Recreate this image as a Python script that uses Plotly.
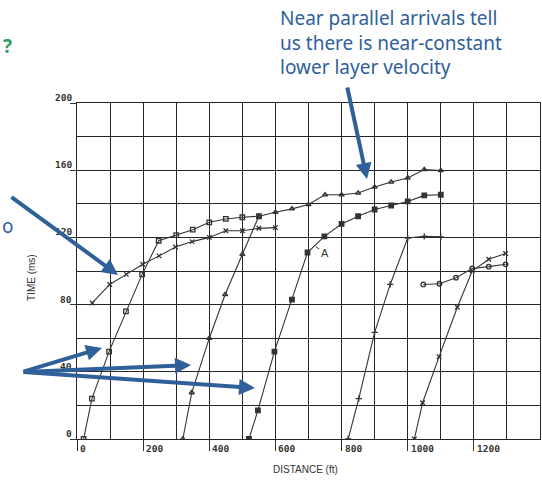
import plotly.graph_objects as go

# Travel-time picks (distance in ft, time in ms), one polyline per branch
shot1_x = [20, 45, 97, 148, 197, 247, 300, 350, 400, 450, 500, 550]
shot1_t = [0, 24, 52, 76, 98, 118, 121.4, 124.6, 129, 131, 132, 132.6]

offend_x = [46, 99, 149, 199, 248, 298, 348, 400, 450, 500, 550, 600]
offend_t = [81, 92, 98, 104, 109, 114.3, 117.5, 120, 124, 124, 125.4, 125.8]

shot2_x = [320, 347, 400, 448, 500, 550, 600, 650, 700, 750, 800, 850, 900, 950, 1000, 1050, 1100]
shot2_t = [0, 27.6, 60, 86, 110, 132.6, 135, 137, 139.6, 145.4, 145.4, 146.4, 150, 153, 155.4, 160.4, 159.8]

shot3_x = [520, 547, 597, 650, 697, 748, 800, 850, 900, 950, 1000, 1050, 1100]
shot3_t = [0, 17, 52, 83, 111, 120.6, 128, 132.6, 136.6, 139, 141.4, 145, 145.4]

shot4_x = [820, 852, 900, 947, 1000, 1050, 1100]
shot4_t = [0, 24, 63.5, 92, 119.6, 120.6, 120.3]

shot5_x = [1020, 1045, 1095, 1150, 1195, 1245, 1296]
shot5_t = [0, 21.6, 49, 78.4, 100, 107, 110.4]

reverse_x = [1047, 1096, 1146, 1195, 1245, 1296]
reverse_t = [92, 92.4, 96, 101.5, 102.6, 104]

x_tick_vals = [0, 200, 400, 600, 800, 1000, 1200]
x_tick_text = ["0", "200", "400", "600", "800", "1000", "1200"]
y_tick_vals = [0, 40, 80, 120, 160, 200]
y_tick_text = ["0", "40", "80", "120", "160", "200"]

INK = "#333333"
GRID = "#262626"
BLUE = "#2f6099"
W, H = 542, 481
ML, MR, MT, MB = 77, 2, 103, 42
PW, PH = W - ML - MR, H - MT - MB


def px_to_paper(px, py):
    return (px - ML) / PW, (H - MB - py) / PH


series = [
    (shot1_x, shot1_t, "square-open"),
    (offend_x, offend_t, "x-thin-open"),
    (shot2_x, shot2_t, "triangle-up-open"),
    (shot3_x, shot3_t, "square"),
    (shot4_x, shot4_t, "cross-thin-open"),
    (shot5_x, shot5_t, "x-thin-open"),
    (reverse_x, reverse_t, "circle-open"),
]

fig = go.Figure()
for xs, ts, sym in series:
    fig.add_trace(go.Scatter(
        x=xs, y=ts, mode="lines+markers",
        line=dict(color=INK, width=1.1),
        marker=dict(symbol=sym, size=4.5, color=INK, line=dict(color=INK, width=1.3)),
        showlegend=False, hoverinfo="skip",
    ))

grid = dict(showgrid=True, gridcolor=GRID, gridwidth=1.4)
fig.update_xaxes(
    range=[0, 1400], tickmode="array", tickvals=x_tick_vals, showticklabels=False,
    ticks="outside", ticklen=11, tickwidth=1.2, tickcolor=INK,
    zeroline=False, showline=True, mirror=True, linecolor=GRID, linewidth=1.4,
    minor=dict(dtick=100, tick0=0, showgrid=True, gridcolor=GRID, gridwidth=1.4),
    **grid,
)
fig.update_yaxes(
    range=[0, 200], tickmode="array", tickvals=y_tick_vals, showticklabels=False,
    ticks="outside", ticklen=6, tickwidth=1.2, tickcolor=INK,
    zeroline=False, showline=True, mirror=True, linecolor=GRID, linewidth=1.4,
    minor=dict(dtick=20, tick0=0, showgrid=True, gridcolor=GRID, gridwidth=1.4),
    **grid,
)

tick_font = dict(family="DejaVu Sans Mono", size=9.5, color="#333333")
annotations = []
for v, t in zip(x_tick_vals, x_tick_text):
    annotations.append(dict(x=v, y=0, xref="x", yref="y", text=f"<b>{t}</b>", showarrow=False,
                            xanchor="left", yanchor="top", xshift=1, yshift=-2, font=tick_font))
for v, t in zip(y_tick_vals, y_tick_text):
    annotations.append(dict(x=0, y=v, xref="paper", yref="y", text=f"<b>{t}</b>", showarrow=False,
                            xanchor="right", yanchor="bottom", xshift=-3, yshift=-2, font=tick_font))

label_font = dict(family="Liberation Sans", size=10, color="#333333")
annotations.append(dict(x=0.5, y=-0.09, xref="paper", yref="paper", text="DISTANCE (ft)",
                        showarrow=False, xanchor="center", yanchor="middle",
                        xshift=(305 - (ML + PW / 2)), font=label_font))
tx, ty = px_to_paper(31, 278)
annotations.append(dict(x=tx, y=ty, xref="paper", yref="paper", text="TIME (ms)", textangle=-90,
                        showarrow=False, xanchor="center", yanchor="middle", font=label_font))

# refraction point label
annotations.append(dict(x=722, y=114.5, xref="x", yref="y", text="A", showarrow=True,
                        arrowhead=0, arrowwidth=1, arrowcolor=INK, ax=9, ay=6, standoff=0,
                        font=dict(family="Liberation Sans", size=11, color=INK)))

# callout text
cx, cy = px_to_paper(278, 3)
annotations.append(dict(x=cx, y=cy, xref="paper", yref="paper",
                        text="Near parallel arrivals tell<br>us there is near-constant<br>lower layer velocity",
                        showarrow=False, xanchor="left", yanchor="top", align="left",
                        font=dict(family="Noto Sans", size=19, color=BLUE)))
qx, qy = px_to_paper(1, 46)
annotations.append(dict(x=qx, y=qy, xref="paper", yref="paper", text="<b>?</b>", showarrow=False,
                        xanchor="left", yanchor="middle",
                        font=dict(family="Noto Sans", size=19, color="#2e9c5c")))
ox, oy = px_to_paper(0, 226)
annotations.append(dict(x=ox, y=oy, xref="paper", yref="paper", text="o", showarrow=False,
                        xanchor="left", yanchor="middle",
                        font=dict(family="Noto Sans", size=19, color=BLUE)))

# blue callout arrows: (tail px, tail py, tip px, tip py)
arrows = [
    (10, 196, 118, 275),
    (22, 372, 102, 348),
    (22, 372, 191, 365),
    (22, 372, 255, 388),
    (347, 86, 367, 179),
]
for x0, y0, x1, y1 in arrows:
    ax_, ay_ = px_to_paper(x1, y1)
    annotations.append(dict(x=ax_, y=ay_, xref="paper", yref="paper", text="",
                            showarrow=True, arrowhead=2, arrowsize=0.8, arrowwidth=4,
                            arrowcolor=BLUE, ax=x0 - x1, ay=y0 - y1, standoff=0))

fig.update_layout(
    width=W, height=H, margin=dict(l=ML, r=MR, t=MT, b=MB),
    paper_bgcolor="white", plot_bgcolor="white",
    annotations=annotations,
)
fig.write_html("out.html")
